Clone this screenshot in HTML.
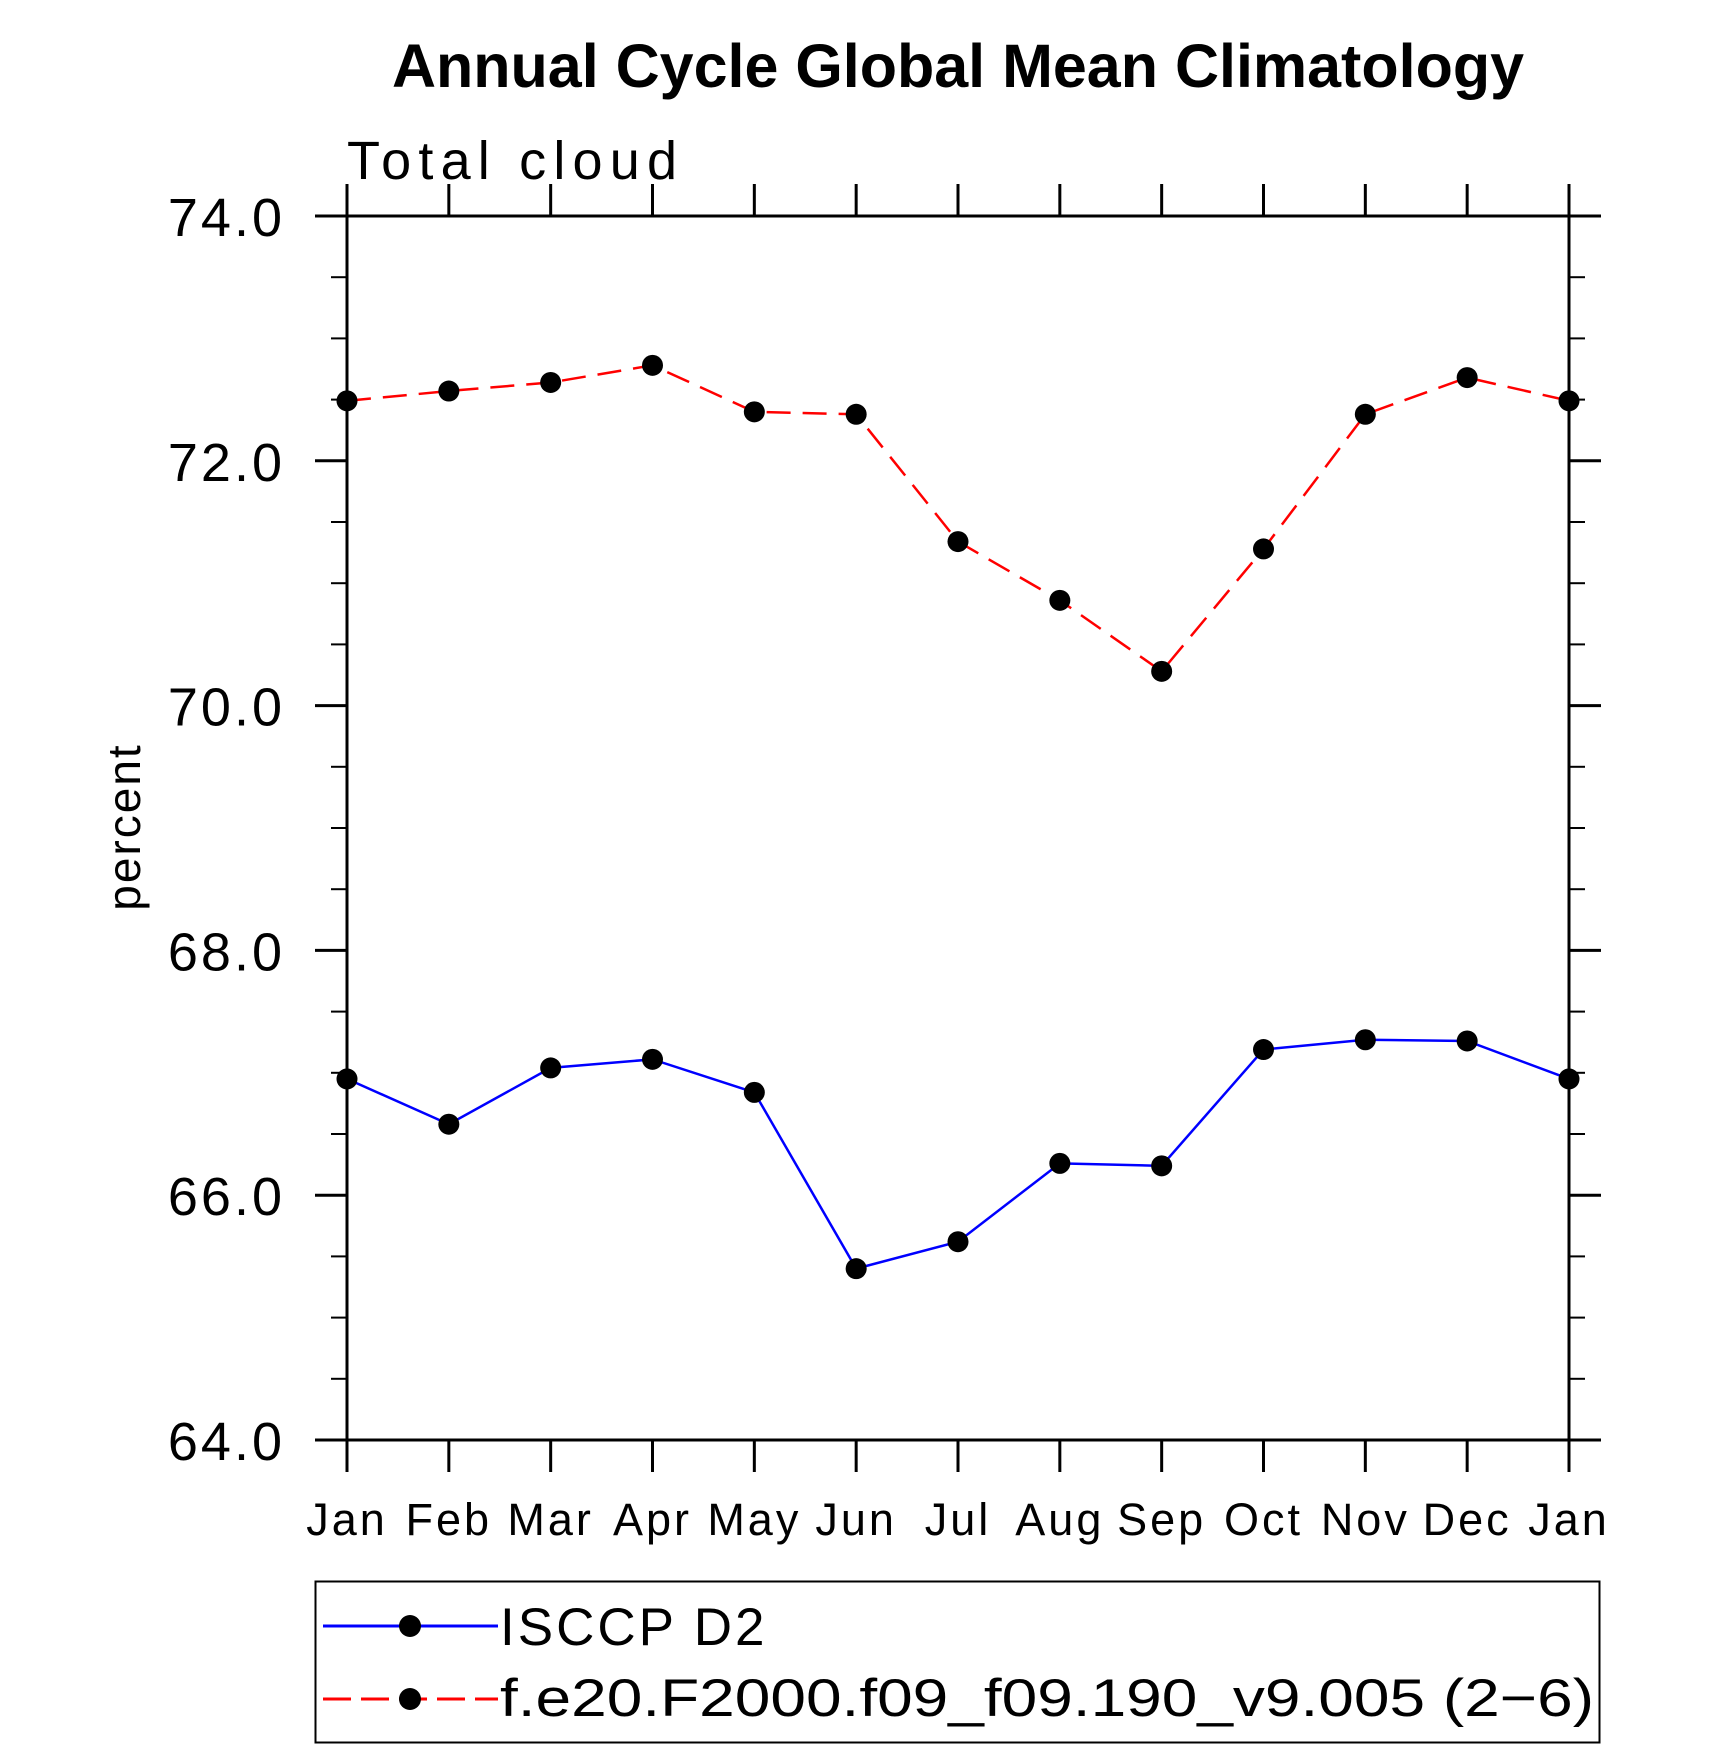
<!DOCTYPE html>
<html><head><meta charset="utf-8"><style>
html,body{margin:0;padding:0;background:#fff;}
svg{display:block;font-family:"Liberation Sans",sans-serif;}
</style></head><body>
<svg id="chart" width="1710" height="1751" viewBox="0 0 1710 1751">
<text x="958" y="87" text-anchor="middle" font-size="61" font-weight="bold">Annual Cycle Global Mean Climatology</text>
<text x="347" y="179" font-size="54" textLength="330" lengthAdjust="spacing">Total  cloud</text>
<text transform="translate(140,827) rotate(-90)" text-anchor="middle" font-size="46" letter-spacing="2">percent</text>
<g id="axes"></g>
<g id="series"></g>
<g>
<rect x="315.5" y="1581.5" width="1284" height="161" fill="none" stroke="#000" stroke-width="2"/>
<g>
<line x1="323" y1="1626" x2="498" y2="1626" stroke="#0000ff" stroke-width="3"/>
<circle cx="410" cy="1626" r="11" fill="#000"/>
<text x="500" y="1645" font-size="53" letter-spacing="3">ISCCP D2</text>
</g>
<g>
<line x1="323" y1="1699" x2="498" y2="1699" stroke="#ff0000" stroke-width="3" stroke-dasharray="28,10"/>
<circle cx="410" cy="1699" r="11" fill="#000"/>
<text x="500" y="1716" font-size="53" textLength="1094" lengthAdjust="spacingAndGlyphs">f.e20.F2000.f09_f09.190_v9.005 (2−6)</text>
</g>
</g>
</svg>
<script>
const months = ["Jan","Feb","Mar","Apr","May","Jun","Jul","Aug","Sep","Oct","Nov","Dec","Jan"];
const isccpValues = [66.95,66.58,67.04,67.11,66.84,65.40,65.62,66.26,66.24,67.19,67.27,67.26,66.95];
const modelValues = [72.49,72.57,72.64,72.78,72.40,72.38,71.34,70.86,70.28,71.28,72.38,72.68,72.49];
const yTicks = [64,66,68,70,72,74];
const yTickLabels = ["64.0","66.0","68.0","70.0","72.0","74.0"];
const yMinorTicks = [64.5,65,65.5,66.5,67,67.5,68.5,69,69.5,70.5,71,71.5,72.5,73,73.5];

const NS="http://www.w3.org/2000/svg";
const L=347,R=1569,T=216,B=1440,YMIN=64,YMAX=74;
function xs(i){return L+(R-L)*i/(months.length-1);}
function ys(v){return B-(B-T)*(v-YMIN)/(YMAX-YMIN);}
function mk(tag,attrs,parent){const e=document.createElementNS(NS,tag);for(const k in attrs)e.setAttribute(k,attrs[k]);parent.appendChild(e);return e;}
const axes=document.getElementById('axes');
const frame=mk('rect',{x:L,y:T,width:R-L,height:B-T,fill:'none',stroke:'#000','stroke-width':3},axes);


months.forEach((m,i)=>{
  const x=xs(i);
  const t1=mk('line',{x1:x,y1:B,x2:x,y2:B+32,stroke:'#000','stroke-width':3},axes);
  
  
  const t2=mk('line',{x1:x,y1:T,x2:x,y2:T-32,stroke:'#000','stroke-width':3},axes);
  
  
  const lb=mk('text',{x:x,y:1535,'text-anchor':'middle','font-size':45,'letter-spacing':3},axes);
  lb.textContent=m;
  
  
});
yTicks.forEach((v,i)=>{
  const y=ys(v);
  const a=mk('line',{x1:L-32,y1:y,x2:L,y2:y,stroke:'#000','stroke-width':3},axes);
  
  
  const b=mk('line',{x1:R,y1:y,x2:R+32,y2:y,stroke:'#000','stroke-width':3},axes);
  
  
  const lb=mk('text',{x:285,y:y+20,'text-anchor':'end','font-size':54,'letter-spacing':3},axes);
  lb.textContent=yTickLabels[i];
  
  
});
yMinorTicks.forEach(v=>{
  const y=ys(v);
  const a=mk('line',{x1:L-16,y1:y,x2:L,y2:y,stroke:'#000','stroke-width':2},axes);
  
  
  const b=mk('line',{x1:R,y1:y,x2:R+16,y2:y,stroke:'#000','stroke-width':2},axes);
  
  
});
const sg=document.getElementById('series');
function drawSeries(vals,color,dash,name){
  const g=mk('g',{},sg);
  
  
  const pts=vals.map((v,i)=>xs(i)+','+ys(v)).join(' ');
  const pl=mk('polyline',{points:pts,fill:'none',stroke:color,'stroke-width':2.5},g);
  if(dash)pl.setAttribute('stroke-dasharray',dash);
  
  
  vals.forEach((v,i)=>{
    const c=mk('circle',{cx:xs(i),cy:ys(v),r:10.5,fill:'#000'},g);
    
    
  });
}
drawSeries(modelValues,'#ff0000','24,12','model-series');
drawSeries(isccpValues,'#0000ff',null,'isccp-series');
</script>
</body></html>
